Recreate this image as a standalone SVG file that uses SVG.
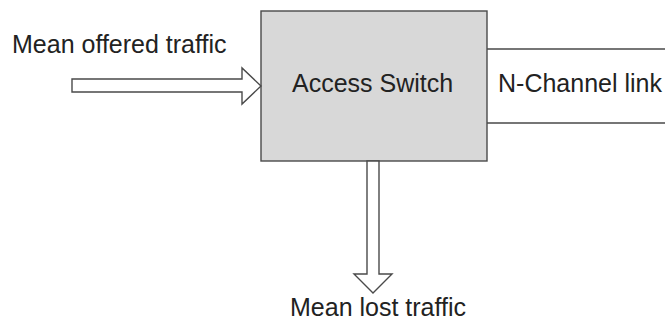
<svg xmlns="http://www.w3.org/2000/svg" width="665" height="320" viewBox="0 0 665 320">
<style>
.t{font-family:"Liberation Sans",Arial,sans-serif;font-size:25px;fill:#222}
.s{stroke:#4a4a4a;stroke-width:1.4;stroke-linejoin:miter}
</style>
<rect width="665" height="320" fill="#fff"/>
<g id="link">
<path class="s" d="M487,49 H666 M487,123 H666" fill="none"/>
<text class="t" x="498" y="92">N-Channel link</text>
</g>
<g id="switch">
<rect class="s" x="261" y="11" width="226" height="150" fill="#d8d8d8"/>
<text class="t" x="292" y="92">Access Switch</text>
</g>
<g id="connectors">
<polygon class="s" fill="#fff" points="72,79 242,79 242,68 261,86 242,104 242,92 72,92"/>
<polygon class="s" fill="#fff" points="367,161 379,161 379,274 392,274 373,293 354,274 367,274"/>
</g>
<g id="labels">
<text class="t" x="12" y="53">Mean offered traffic</text>
<text class="t" x="290" y="316">Mean lost traffic</text>
</g>
</svg>
